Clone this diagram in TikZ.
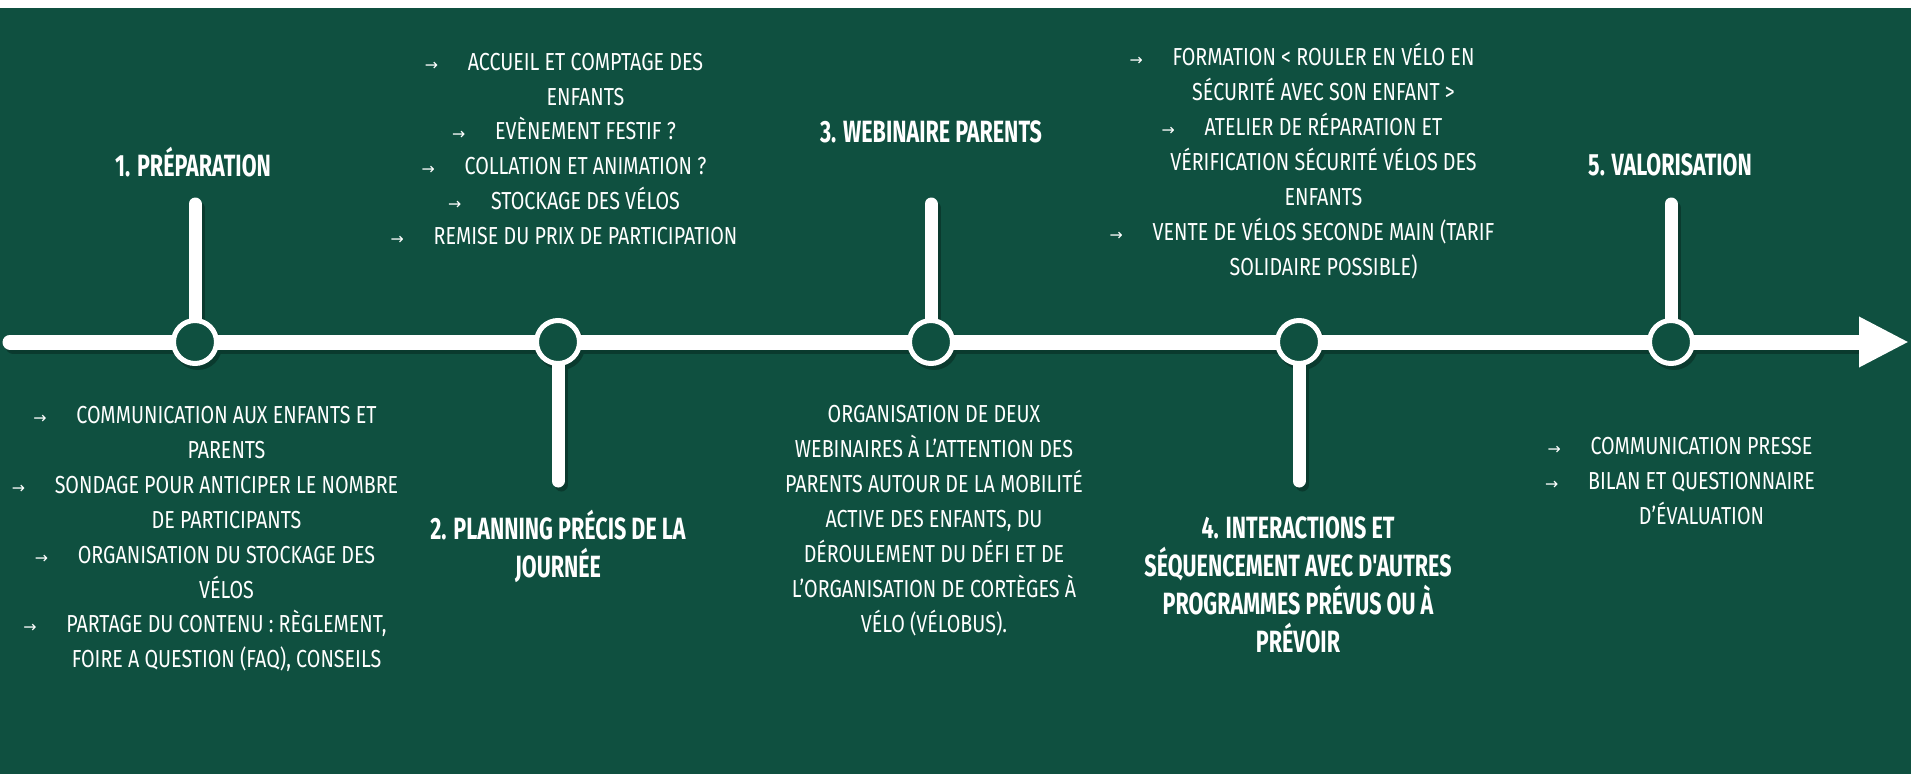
\documentclass[tikz,border=0pt]{standalone}
\usepackage{fontspec}
\setmainfont{Fira Sans}[FakeStretch=0.8]
\newfontfamily\headfont{Fira Sans}[FakeStretch=0.7]
\newfontfamily\arrowfont{DejaVu Sans}
\usetikzlibrary{arrows.meta,backgrounds}
\definecolor{board}{HTML}{0F5040}
\definecolor{shadowcol}{HTML}{0A3A2E}
\newcommand{\itm}{\makebox[0.86cm][l]{\arrowfont\fontsize{9}{9}\selectfont →}}
\newcommand{\cnt}{\hspace*{0.86cm}}
\tikzset{
  axisline/.style={line width=0.3cm, white, line cap=round},
  stem/.style={line width=0.26cm, white, line cap=round},
  milestone/.style={circle, draw=white, line width=0.1cm, fill=board, minimum size=0.86cm, inner sep=0pt},
  title/.style={text=white, font=\headfont\bfseries\fontsize{17.5}{21.6}\selectfont, align=center},
  items/.style={text=white, font=\fontsize{14}{19.9}\selectfont, align=center},
}
\begin{document}
\begin{tikzpicture}[x=0.02cm, y=-0.02cm]
\useasboundingbox (0,0) rectangle (1911,774);
% milestones on the time line
\node[milestone] (m1) at (195,342) {};
\node[milestone] (m2) at (558,342) {};
\node[milestone] (m3) at (931,342) {};
\node[milestone] (m4) at (1299,342) {};
\node[milestone] (m5) at (1671,342) {};
% titles
\node[title] (h1) at (193,162) {1. PRÉPARATION};
\node[title] (h2) at (558,546) {2. PLANNING PRÉCIS DE LA\\JOURNÉE};
\node[title] (h3) at (931,132) {3. WEBINAIRE PARENTS};
\node[title] (h4) at (1298,585) {4. INTERACTIONS ET\\SÉQUENCEMENT AVEC D'AUTRES\\PROGRAMMES PRÉVUS OU À\\PRÉVOIR};
\node[title] (h5) at (1670,165) {5. VALORISATION};
% lists
\node[items] (l1) at (205,539) {\itm COMMUNICATION AUX ENFANTS ET\\\cnt PARENTS\\\itm SONDAGE POUR ANTICIPER LE NOMBRE\\\cnt DE PARTICIPANTS\\\itm ORGANISATION DU STOCKAGE DES\\\cnt VÉLOS\\\itm PARTAGE DU CONTENU : RÈGLEMENT,\\\cnt FOIRE A QUESTION (FAQ), CONSEILS};
\node[items] (l2) at (564,149) {\itm ACCUEIL ET COMPTAGE DES\\\cnt ENFANTS\\\itm EVÈNEMENT FESTIF ?\\\itm COLLATION ET ANIMATION ?\\\itm STOCKAGE DES VÉLOS\\\itm REMISE DU PRIX DE PARTICIPATION};
\node[items] (l3) at (934,521) {ORGANISATION DE DEUX\\WEBINAIRES À L'ATTENTION DES\\PARENTS AUTOUR DE LA MOBILITÉ\\ACTIVE DES ENFANTS, DU\\DÉROULEMENT DU DÉFI ET DE\\L'ORGANISATION DE CORTÈGES À\\VÉLO (VÉLOBUS).};
\node[items] (l4) at (1302,161) {\itm FORMATION < ROULER EN VÉLO EN\\\cnt SÉCURITÉ AVEC SON ENFANT >\\\itm ATELIER DE RÉPARATION ET\\\cnt VÉRIFICATION SÉCURITÉ VÉLOS DES\\\cnt ENFANTS\\\itm VENTE DE VÉLOS SECONDE MAIN (TARIF\\\cnt SOLIDAIRE POSSIBLE)};
\node[items] (l5) at (1680,481) {\itm COMMUNICATION PRESSE\\\itm BILAN ET QUESTIONNAIRE\\\cnt D'ÉVALUATION};
% ends of stems and line
\coordinate (t1) at (195,204);
\coordinate (t2) at (558,481);
\coordinate (t3) at (931,204);
\coordinate (t4) at (1299,481);
\coordinate (t5) at (1671,204);
\coordinate (start) at (10,342);
\coordinate (end) at (1909,342);
\begin{scope}[on background layer]
  \fill[white] (0,0) rectangle (1911,7.5);
  \fill[board] (0,7.5) rectangle (1911,774);
  % shadows
  \begin{scope}[transform canvas={shift={(3,4)}}]
    \draw[axisline, shadowcol] (start) -- (1860,342);
    \draw[stem, shadowcol] (m1) -- (t1);
    \draw[stem, shadowcol] (m2) -- (t2);
    \draw[stem, shadowcol] (m3) -- (t3);
    \draw[stem, shadowcol] (m4) -- (t4);
    \draw[stem, shadowcol] (m5) -- (t5);
    \fill[shadowcol] (m1) circle (0.48cm) (m2) circle (0.48cm) (m3) circle (0.48cm) (m4) circle (0.48cm) (m5) circle (0.48cm);
  \end{scope}
  \draw[axisline, -{Triangle[length=1cm, width=0.94cm]}] (start) -- (end);
  \draw[stem] (m1) -- (t1);
  \draw[stem] (m2) -- (t2);
  \draw[stem] (m3) -- (t3);
  \draw[stem] (m4) -- (t4);
  \draw[stem] (m5) -- (t5);
\end{scope}
\end{tikzpicture}
\end{document}
